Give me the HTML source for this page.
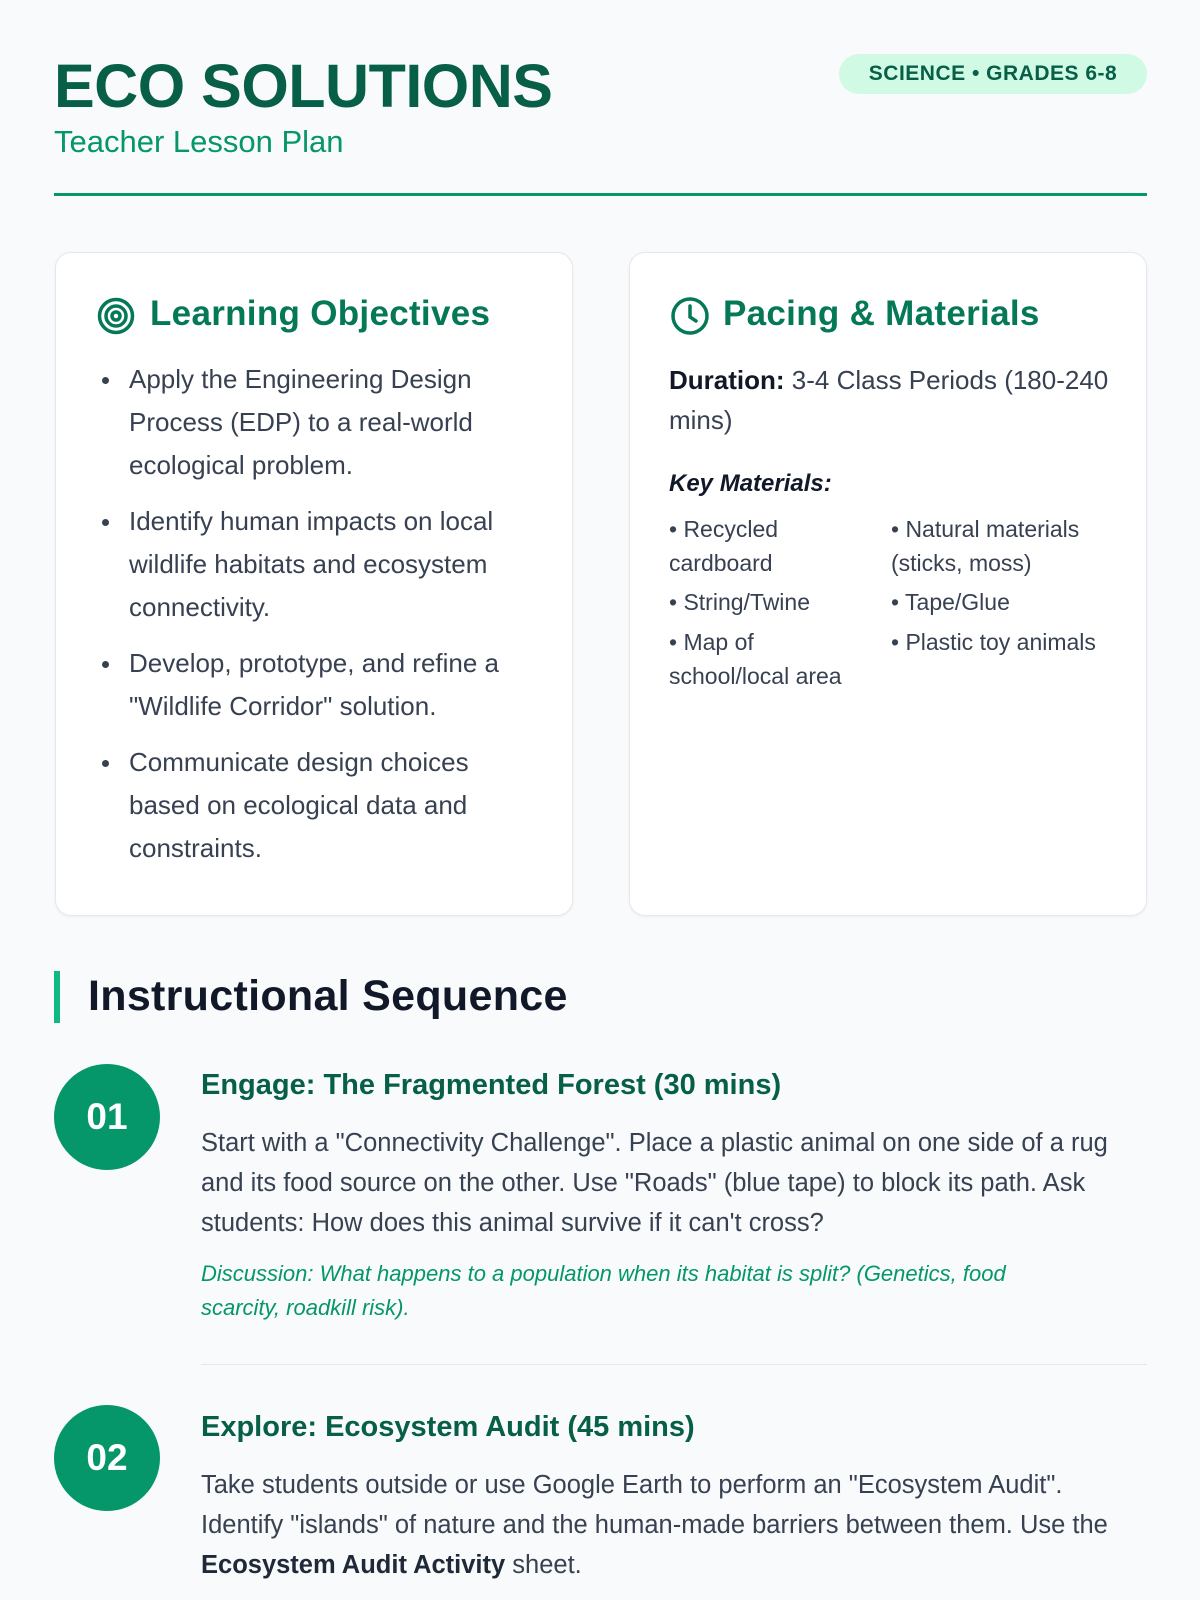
<!DOCTYPE html>
<html><head><meta charset="utf-8"><style>
*{margin:0;padding:0;box-sizing:border-box}
body{width:1200px;height:1600px;background:#f8fafc;font-family:"Liberation Sans",sans-serif;position:relative;overflow:hidden;color:#374151}
.a{position:absolute;white-space:nowrap}
h1{position:absolute;left:54px;top:51px;font-size:61px;font-weight:bold;color:#065f46;letter-spacing:-0.5px}
.sub{left:54px;top:124px;font-size:31px;color:#059669}
.badge{left:839px;top:54px;width:308px;height:40px;border-radius:20px;background:#d1fae5;color:#065f46;font-weight:bold;font-size:21px;text-align:center;line-height:40px;letter-spacing:.5px}
.rule{left:54px;top:193px;width:1093px;height:3px;background:#059669}
.card{position:absolute;top:252px;width:518px;height:664px;background:#fff;border:1px solid #e5e7eb;border-radius:16px;box-shadow:0 1px 3px rgba(0,0,0,.05)}
.ch{font-size:35px;font-weight:bold;color:#047857;letter-spacing:.3px}
ul{position:absolute;left:100px;top:358px;width:430px;font-size:26px;line-height:43px;list-style:none}
ul li{position:relative;padding-left:29px;margin-bottom:13px}
ul li:before{content:"";position:absolute;left:2px;top:19px;width:7px;height:7px;border-radius:50%;background:#374151}
.t26{font-size:26px}
.mat{font-size:23px;line-height:34px;width:200px;white-space:normal}
.circ{position:absolute;left:54px;width:106px;height:106px;border-radius:50%;background:#059669;color:#fff;font-weight:bold;font-size:37px;text-align:center;line-height:106px}
.st{left:201px;font-size:29px;font-weight:bold;color:#065f46}
.body{left:201px;width:946px;white-space:normal;font-size:25.5px;line-height:40px}
</style></head><body>
<h1>ECO SOLUTIONS</h1>
<div class="a sub">Teacher Lesson Plan</div>
<div class="a badge">SCIENCE • GRADES 6-8</div>
<div class="a rule"></div>

<div class="card" style="left:55px"></div>
<div class="card" style="left:629px"></div>

<svg class="a" style="left:96px;top:296px" width="40" height="40" viewBox="0 0 40 40" fill="none" stroke="#047857" stroke-width="3.5"><circle cx="20" cy="20" r="16.5"/><circle cx="20" cy="20" r="10"/><circle cx="20" cy="20" r="4"/></svg>
<div class="a ch" style="left:150px;top:294px">Learning Objectives</div>
<ul>
<li>Apply the Engineering Design Process (EDP) to a real-world ecological problem.</li>
<li>Identify human impacts on local wildlife habitats and ecosystem connectivity.</li>
<li>Develop, prototype, and refine a "Wildlife Corridor" solution.</li>
<li>Communicate design choices based on ecological data and constraints.</li>
</ul>

<svg class="a" style="left:670px;top:296px" width="40" height="40" viewBox="0 0 40 40" fill="none" stroke="#047857" stroke-width="3.5" stroke-linecap="round"><circle cx="20" cy="20" r="17"/><path d="M20 10v11l6 4"/></svg>
<div class="a ch" style="left:723px;top:294px">Pacing &amp; Materials</div>
<div class="a t26" style="left:669px;top:360px;width:450px;white-space:normal;line-height:40px"><b style="color:#111827">Duration:</b> 3-4 Class Periods (180-240 mins)</div>
<div class="a" style="left:669px;top:470px;font-size:24px;font-weight:bold;font-style:italic;color:#111827">Key Materials:</div>
<div class="a mat" style="left:669px;top:512px">• Recycled cardboard</div>
<div class="a mat" style="left:669px;top:585px">• String/Twine</div>
<div class="a mat" style="left:669px;top:625px">• Map of school/local area</div>
<div class="a mat" style="left:891px;top:512px;width:240px">• Natural materials (sticks, moss)</div>
<div class="a mat" style="left:891px;top:585px">• Tape/Glue</div>
<div class="a mat" style="left:891px;top:625px;width:240px">• Plastic toy animals</div>

<div class="a" style="left:54px;top:971px;width:6px;height:52px;background:#10b981"></div>
<div class="a" style="left:88px;top:972px;font-size:43px;font-weight:bold;color:#111827;letter-spacing:.3px">Instructional Sequence</div>

<div class="circ" style="top:1064px">01</div>
<div class="a st" style="top:1069px">Engage: The Fragmented Forest (30 mins)</div>
<div class="a body" style="top:1123px">Start with a "Connectivity Challenge". Place a plastic animal on one side of a rug and its food source on the other. Use "Roads" (blue tape) to block its path. Ask students: How does this animal survive if it can't cross?</div>
<div class="a" style="left:201px;top:1257px;width:870px;white-space:normal;font-size:22px;line-height:34px;font-style:italic;color:#059669">Discussion: What happens to a population when its habitat is split? (Genetics, food scarcity, roadkill risk).</div>
<div class="a" style="left:201px;top:1364px;width:946px;height:1px;background:#e5e7eb"></div>

<div class="circ" style="top:1405px">02</div>
<div class="a st" style="top:1411px">Explore: Ecosystem Audit (45 mins)</div>
<div class="a body" style="top:1465px">Take students outside or use Google Earth to perform an "Ecosystem Audit". Identify "islands" of nature and the human-made barriers between them. Use the <b style="color:#1f2937">Ecosystem Audit Activity</b> sheet.</div>
</body></html>
